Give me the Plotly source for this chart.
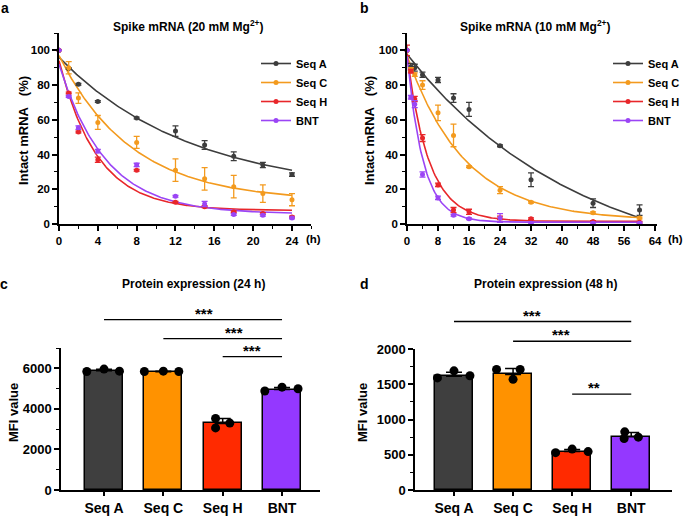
import numpy as np
import plotly.graph_objects as go

W, H = 684, 516
FONT = "Liberation Sans"

# ---------------- data ----------------
series_names = ["Seq A", "Seq C", "Seq H", "BNT"]

t_a = [0, 1, 2, 4, 8, 12, 15, 18, 21, 24]
a_seqA = [100, 89.5, 80.5, 70.5, 61, 53.5, 45.5, 39, 34, 28.5]
a_seqA_sd = [0, 0.5, 0.5, 0.5, 0.5, 3, 2.5, 2.5, 1.5, 1]
a_seqC = [100, 90, 72.5, 58.5, 47, 31, 26, 21.5, 17.5, 14]
a_seqC_sd = [0, 3.5, 3, 4, 3.5, 6.5, 6.5, 6.5, 5, 3.5]
a_seqH = [100, 75.5, 53, 37, 31, 12.5, 10, 7, 6, 4]
a_seqH_sd = [0, 0.5, 0.5, 1.5, 0.5, 0.5, 0.5, 0.5, 0.5, 0.5]
a_bnt = [100, 73.5, 55.5, 42, 34, 16, 11.5, 5.5, 5, 3.5]
a_bnt_sd = [0, 0.5, 1, 1, 1, 0.5, 1.5, 0.5, 0.5, 0.5]

t_b = [0, 1, 2, 4, 8, 12, 16, 24, 32, 48, 60]
b_seqA = [100, 90.5, 90, 86, 83, 72.5, 66, 45, 25.5, 12, 8]
b_seqA_sd = [0, 2, 2, 1.5, 1.5, 2.5, 4, 0.5, 4, 2.5, 3]
b_seqC = [100, 89, 86, 80, 64, 51, 33, 19.5, 12.5, 6.5, 3.5]
b_seqC_sd = [0, 1, 1, 2.5, 4.5, 6.5, 0.5, 2, 0.5, 0.5, 0.5]
b_seqH = [100, 88, 72, 49.5, 22.5, 8, 7, 3.5, 3, 1.5, 1]
b_seqH_sd = [3, 1, 1.5, 2, 1, 1.5, 1.5, 1, 0.5, 0.5, 0.5]
b_bnt = [100, 73, 69, 28.5, 15, 5, 3, 3.5, 0.5, 0.5, 0.5]
b_bnt_sd = [0, 1, 2, 1.5, 1, 0.5, 0.5, 2.5, 0.5, 0.5, 0.5]

# one-phase decay fit parameters (Y0, plateau, k)
fit_a = [(96, 17.6, 0.0737), (97, 13.1, 0.1335), (94, 7.7, 0.255), (92, 5.8, 0.21)]
fit_b = [(97.7, -30, 0.0223), (97, 2, 0.067), (97, 1.5, 0.177), (97, 1, 0.24)]

categories = ["Seq A", "Seq C", "Seq H", "BNT"]
c_mean = [5880, 5830, 3280, 4950]
c_sd = [70, 25, 250, 100]
c_points = [[5840, 5960, 5860], [5840, 5860, 5840], [3530, 3060, 3300], [4880, 5070, 4990]]
d_mean = [1615, 1640, 545, 755]
d_sd = [55, 85, 30, 60]
d_points = [[1590, 1690, 1620], [1710, 1570, 1710], [530, 580, 545], [825, 730, 750]]

c_sig = [("Seq A", "BNT", "***", 8400), ("Seq C", "BNT", "***", 7460), ("Seq H", "BNT", "***", 6570)]
d_sig = [("Seq A", "BNT", "***", 2390), ("Seq C", "BNT", "***", 2110), ("Seq H", "BNT", "**", 1360)]

# ---------------- styles ----------------
line_colors = ["#3d3d3d", "#f39a1e", "#e8262a", "#9b45f5"]
bar_colors = ["#3f3f3f", "#ff9200", "#ff2a00", "#9438ff"]
c_jitter = [[-0.29, 0, 0.26], [-0.32, 0, 0.26], [-0.12, -0.12, 0.12], [-0.29, 0, 0.27]]
d_jitter = [[-0.28, 0, 0.27], [-0.28, 0, 0.12], [-0.28, 0, 0.27], [-0.11, -0.12, 0.12]]


def px_x(p):
    return p / W


def px_y(p):
    return 1 - p / H


dom = {
    "a": ([px_x(59), px_x(311.4)], [px_y(224), px_y(33)]),
    "b": ([px_x(407), px_x(657)], [px_y(224), px_y(33)]),
    "c": ([px_x(61), px_x(320)], [px_y(490), px_y(348)]),
    "d": ([px_x(415), px_x(672)], [px_y(490), px_y(349)]),
}
rng = {
    "a": ([0, 26], [0, 110]),
    "b": ([0, 64.5], [0, 110]),
    "c": ([-0.725, 3.64], [0, 7000]),
    "d": ([-0.66, 3.69], [0, 2000]),
}


def to_paper(v, r, d):
    return d[0] + (v - r[0]) / (r[1] - r[0]) * (d[1] - d[0])


fig = go.Figure()

# ---------------- line panels ----------------
line_sets = [
    ("a", "x", "y", t_a, [a_seqA, a_seqC, a_seqH, a_bnt], [a_seqA_sd, a_seqC_sd, a_seqH_sd, a_bnt_sd], fit_a, 24, "legend"),
    ("b", "x2", "y2", t_b, [b_seqA, b_seqC, b_seqH, b_bnt], [b_seqA_sd, b_seqC_sd, b_seqH_sd, b_bnt_sd], fit_b, 60, "legend2"),
]
for key, xa, ya, tt, ys, sds, fits, tmax, leg in line_sets:
    for i, name in enumerate(series_names):
        y0, plateau, k = fits[i]
        xf = np.linspace(0, tmax, 200)
        yf = (y0 - plateau) * np.exp(-k * xf) + plateau
        fig.add_trace(go.Scatter(x=xf, y=yf, mode="lines", xaxis=xa, yaxis=ya,
                                 line=dict(color=line_colors[i], width=1.6),
                                 showlegend=False, hoverinfo="skip"))
    for i, name in enumerate(series_names):
        fig.add_trace(go.Scatter(x=tt, y=ys[i], mode="markers", xaxis=xa, yaxis=ya,
                                 marker=dict(color=line_colors[i], size=5),
                                 error_y=dict(type="data", array=sds[i], color=line_colors[i],
                                              thickness=1.3, width=3),
                                 cliponaxis=False, showlegend=False))
    for i, name in enumerate(series_names):
        fig.add_trace(go.Scatter(x=[None], y=[None], mode="lines+markers", name=name,
                                 xaxis=xa, yaxis=ya, legend=leg,
                                 line=dict(color=line_colors[i], width=1.6),
                                 marker=dict(color=line_colors[i], size=5)))

# ---------------- bar panels ----------------
bar_sets = [("c", "x3", "y3", c_mean, c_sd, c_points, c_jitter, c_sig),
            ("d", "x4", "y4", d_mean, d_sd, d_points, d_jitter, d_sig)]
for key, xa, ya, means, sds, pts, jit, sig in bar_sets:
    idx = list(range(len(categories)))
    fig.add_trace(go.Bar(x=idx, y=means, xaxis=xa, yaxis=ya, width=0.64,
                         marker=dict(color=bar_colors, line=dict(color="black", width=1.5)),
                         error_y=dict(type="data", array=sds, arrayminus=[0] * len(sds),
                                      symmetric=False, color="black", thickness=1.5, width=8),
                         showlegend=False))
    px_list, py_list = [], []
    for i in idx:
        for j, v in enumerate(pts[i]):
            px_list.append(i + jit[i][j])
            py_list.append(v)
    fig.add_trace(go.Scatter(x=px_list, y=py_list, mode="markers", xaxis=xa, yaxis=ya,
                             marker=dict(color="black", size=9), cliponaxis=False,
                             showlegend=False))

# ---------------- axes ----------------
base = dict(showline=True, linecolor="black", linewidth=1.5, ticks="outside", ticklen=5,
            tickwidth=1.5, tickcolor="black", showgrid=False, zeroline=False, automargin=False,
            tickfont=dict(family=FONT, size=11.5, color="black", weight="bold"))


def ax(key, which, **kw):
    d = dom[key][0 if which == "x" else 1]
    r = rng[key][0 if which == "x" else 1]
    o = dict(base)
    o.update(domain=d, range=r)
    o.update(kw)
    return o


minor = lambda dt: dict(dtick=dt, ticks="outside", ticklen=3, tickwidth=1.3, tickcolor="black")
big = dict(family=FONT, size=13, color="black", weight="bold")
bigger = dict(family=FONT, size=14, color="black", weight="bold")

fig.update_layout(
    template="none",
    xaxis=ax("a", "x", anchor="y", tick0=0, dtick=4, minor=minor(2)),
    yaxis=ax("a", "y", anchor="x", tick0=0, dtick=20, minor=minor(10)),
    xaxis2=ax("b", "x", anchor="y2", tick0=0, dtick=8, minor=minor(4)),
    yaxis2=ax("b", "y", anchor="x2", tick0=0, dtick=20, minor=minor(10)),
    xaxis3=ax("c", "x", anchor="y3", tickmode="array", tickvals=[0, 1, 2, 3], ticktext=categories,
              ticklen=4, tickfont=bigger),
    yaxis3=ax("c", "y", anchor="x3", tick0=0, dtick=2000, minor=minor(1000), tickfont=big),
    xaxis4=ax("d", "x", anchor="y4", tickmode="array", tickvals=[0, 1, 2, 3], ticktext=categories,
              ticklen=4, tickfont=bigger),
    yaxis4=ax("d", "y", anchor="x4", tick0=0, dtick=500, minor=minor(250), tickfont=big),
)

# significance bars
shapes, annots = [], []
for key, sig in (("c", c_sig), ("d", d_sig)):
    xr, yr = rng[key]
    xd, yd = dom[key]
    for g1, g2, label, yv in sig:
        x1 = to_paper(categories.index(g1), xr, xd)
        x2 = to_paper(categories.index(g2), xr, xd)
        yp = to_paper(yv, yr, yd)
        shapes.append(dict(type="line", xref="paper", yref="paper", x0=x1, x1=x2, y0=yp, y1=yp,
                           line=dict(color="black", width=1.3)))
        annots.append(dict(x=(x1 + x2) / 2, y=yp - 4 / H, xref="paper", yref="paper", text=label,
                           showarrow=False, yanchor="bottom",
                           font=dict(family=FONT, size=15, color="black", weight="bold")))


def text(x, y, s, size=11, angle=0, xanchor="center"):
    annots.append(dict(x=px_x(x), y=px_y(y), xref="paper", yref="paper", text=s, showarrow=False,
                       textangle=angle, xanchor=xanchor, yanchor="middle",
                       font=dict(family=FONT, size=size, color="black", weight="bold")))


text(188, 26, "Spike mRNA (20 mM Mg<sup>2+</sup>)", 12)
text(535, 26, "Spike mRNA (10 mM Mg<sup>2+</sup>)", 12)
text(193, 284, "Protein expression (24 h)", 12)
text(545, 284, "Protein expression (48 h)", 12)
text(23, 131, "Intact mRNA\u00a0\u00a0\u00a0(%)", 13, -90)
text(369, 131, "Intact mRNA\u00a0\u00a0\u00a0(%)", 13, -90)
text(13, 413, "MFI value", 13, -90)
text(362, 413, "MFI value", 13, -90)
text(313.5, 239, "(h)", 11.5)
text(675.5, 239, "(h)", 11.5)
text(5, 8, "a", 14)
text(364, 8, "b", 14)
text(4, 284, "c", 14)
text(365, 284, "d", 14)

legend_font = dict(family=FONT, size=11, color="black", weight="bold")
fig.update_layout(
    width=W, height=H, autosize=False,
    margin=dict(l=0, r=0, t=0, b=0, pad=0, autoexpand=False),
    paper_bgcolor="white", plot_bgcolor="white",
    font=dict(family=FONT, color="black"),
    shapes=shapes, annotations=annots,
    legend=dict(x=px_x(256), y=px_y(49), xanchor="left", yanchor="top", font=legend_font,
                bgcolor="rgba(0,0,0,0)", borderwidth=0, tracegroupgap=0, itemwidth=30),
    legend2=dict(x=px_x(608), y=px_y(49), xanchor="left", yanchor="top", font=legend_font,
                 bgcolor="rgba(0,0,0,0)", borderwidth=0, tracegroupgap=0, itemwidth=30),
    bargap=0,
)

fig.write_html("out.html",
               config={"displayModeBar": False, "responsive": False},
               post_script="document.body.style.margin='0';document.body.style.overflow='hidden';")
